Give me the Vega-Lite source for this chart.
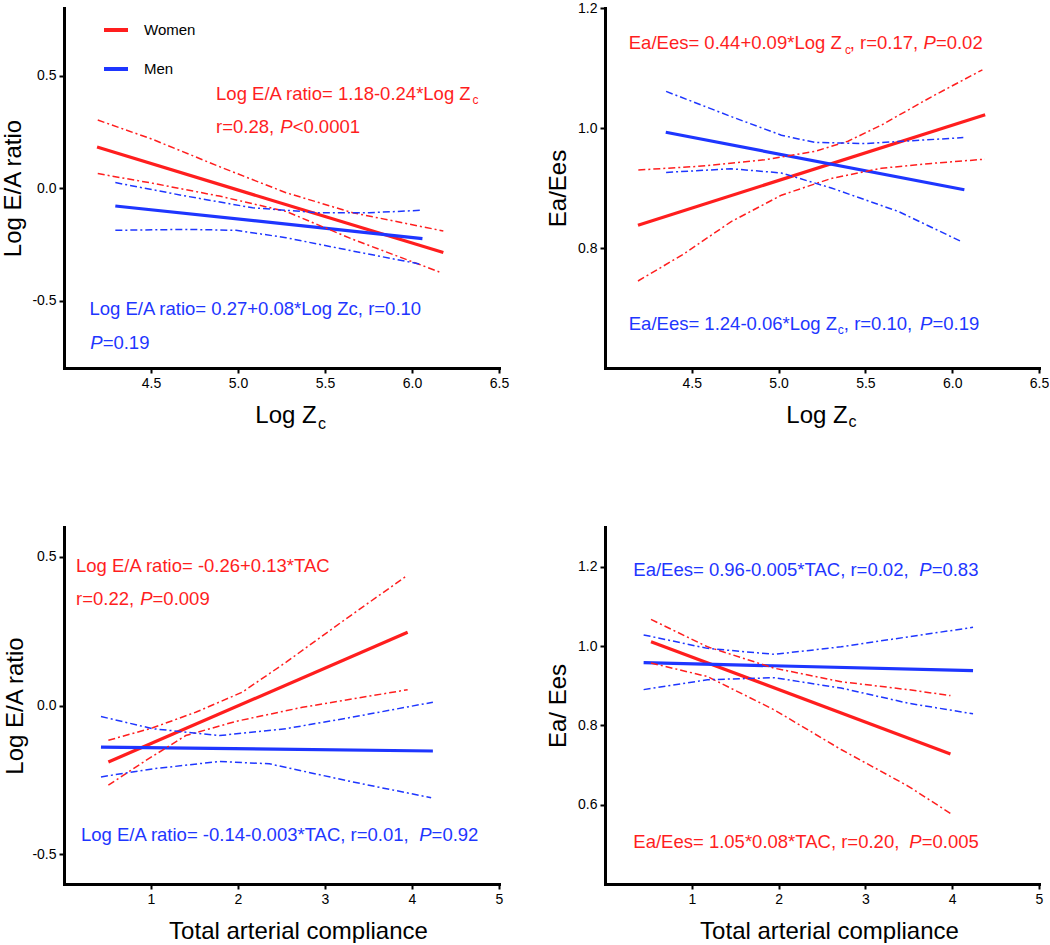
{
  "$schema": "https://vega.github.io/schema/vega-lite/v6.json",
  "padding": {"left": 1, "top": 1, "right": 0, "bottom": 0},
  "columns": 2,
  "spacing": {"row": 159, "column": 106},
  "bounds": "flush",
  "resolve": {"scale": {"color": "independent"}, "legend": {"color": "independent"}},
  "config": {
    "font": "Liberation Sans",
    "view": {"stroke": null},
    "axis": {"grid": false, "domainColor": "#000", "domainWidth": 3, "domainCap": "square", "tickColor": "#000", "tickWidth": 2, "tickSize": 5, "labelFont": "Liberation Sans", "labelFontSize": 14, "labelColor": "#000", "labelPadding": 3, "labelFlush": false, "labelOverlap": false, "labelExpr": "replace(datum.label, '\u2212', '-')", "titleFont": "Liberation Sans", "titleFontSize": 24, "titleFontWeight": "normal", "titleColor": "#000"},
    "axisX": {"titlePadding": 13},
    "axisY": {"titlePadding": 7}
  },
  "datasets": {
    "curves": [
      {"panel": "A", "sex": "Women", "curve": "fit", "x": 4.19, "y": 0.182},
      {"panel": "A", "sex": "Women", "curve": "fit", "x": 6.18, "y": -0.287},
      {"panel": "A", "sex": "Women", "curve": "upper", "x": 4.194, "y": 0.302},
      {"panel": "A", "sex": "Women", "curve": "upper", "x": 4.51, "y": 0.216},
      {"panel": "A", "sex": "Women", "curve": "upper", "x": 4.893, "y": 0.095},
      {"panel": "A", "sex": "Women", "curve": "upper", "x": 5.276, "y": -0.021},
      {"panel": "A", "sex": "Women", "curve": "upper", "x": 5.659, "y": -0.11},
      {"panel": "A", "sex": "Women", "curve": "upper", "x": 6.18, "y": -0.191},
      {"panel": "A", "sex": "Women", "curve": "lower", "x": 4.194, "y": 0.064},
      {"panel": "A", "sex": "Women", "curve": "lower", "x": 4.51, "y": 0.021},
      {"panel": "A", "sex": "Women", "curve": "lower", "x": 4.893, "y": -0.036},
      {"panel": "A", "sex": "Women", "curve": "lower", "x": 5.276, "y": -0.104},
      {"panel": "A", "sex": "Women", "curve": "lower", "x": 5.659, "y": -0.228},
      {"panel": "A", "sex": "Women", "curve": "lower", "x": 6.157, "y": -0.373},
      {"panel": "A", "sex": "Men", "curve": "fit", "x": 4.295, "y": -0.08},
      {"panel": "A", "sex": "Men", "curve": "fit", "x": 6.06, "y": -0.225},
      {"panel": "A", "sex": "Men", "curve": "upper", "x": 4.295, "y": 0.024},
      {"panel": "A", "sex": "Men", "curve": "upper", "x": 4.701, "y": -0.036},
      {"panel": "A", "sex": "Men", "curve": "upper", "x": 5.084, "y": -0.088},
      {"panel": "A", "sex": "Men", "curve": "upper", "x": 5.467, "y": -0.11},
      {"panel": "A", "sex": "Men", "curve": "upper", "x": 5.755, "y": -0.11},
      {"panel": "A", "sex": "Men", "curve": "upper", "x": 6.052, "y": -0.099},
      {"panel": "A", "sex": "Men", "curve": "lower", "x": 4.295, "y": -0.188},
      {"panel": "A", "sex": "Men", "curve": "lower", "x": 4.701, "y": -0.184},
      {"panel": "A", "sex": "Men", "curve": "lower", "x": 4.989, "y": -0.188},
      {"panel": "A", "sex": "Men", "curve": "lower", "x": 5.276, "y": -0.221},
      {"panel": "A", "sex": "Men", "curve": "lower", "x": 5.659, "y": -0.28},
      {"panel": "A", "sex": "Men", "curve": "lower", "x": 6.052, "y": -0.339},

      {"panel": "B", "sex": "Women", "curve": "fit", "x": 4.19, "y": 0.838},
      {"panel": "B", "sex": "Women", "curve": "fit", "x": 6.19, "y": 1.022},
      {"panel": "B", "sex": "Women", "curve": "upper", "x": 4.192, "y": 0.93},
      {"panel": "B", "sex": "Women", "curve": "upper", "x": 4.535, "y": 0.936},
      {"panel": "B", "sex": "Women", "curve": "upper", "x": 4.919, "y": 0.947},
      {"panel": "B", "sex": "Women", "curve": "upper", "x": 5.208, "y": 0.961},
      {"panel": "B", "sex": "Women", "curve": "upper", "x": 5.4, "y": 0.978},
      {"panel": "B", "sex": "Women", "curve": "upper", "x": 5.593, "y": 1.005},
      {"panel": "B", "sex": "Women", "curve": "upper", "x": 5.881, "y": 1.052},
      {"panel": "B", "sex": "Women", "curve": "upper", "x": 6.174, "y": 1.097},
      {"panel": "B", "sex": "Women", "curve": "lower", "x": 4.19, "y": 0.745},
      {"panel": "B", "sex": "Women", "curve": "lower", "x": 4.448, "y": 0.789},
      {"panel": "B", "sex": "Women", "curve": "lower", "x": 4.727, "y": 0.844},
      {"panel": "B", "sex": "Women", "curve": "lower", "x": 5.016, "y": 0.888},
      {"panel": "B", "sex": "Women", "curve": "lower", "x": 5.304, "y": 0.916},
      {"panel": "B", "sex": "Women", "curve": "lower", "x": 5.593, "y": 0.933},
      {"panel": "B", "sex": "Women", "curve": "lower", "x": 5.881, "y": 0.941},
      {"panel": "B", "sex": "Women", "curve": "lower", "x": 6.189, "y": 0.948},
      {"panel": "B", "sex": "Men", "curve": "fit", "x": 4.35, "y": 0.993},
      {"panel": "B", "sex": "Men", "curve": "fit", "x": 6.07, "y": 0.897},
      {"panel": "B", "sex": "Men", "curve": "upper", "x": 4.352, "y": 1.061},
      {"panel": "B", "sex": "Men", "curve": "upper", "x": 4.727, "y": 1.019},
      {"panel": "B", "sex": "Men", "curve": "upper", "x": 5.016, "y": 0.988},
      {"panel": "B", "sex": "Men", "curve": "upper", "x": 5.208, "y": 0.976},
      {"panel": "B", "sex": "Men", "curve": "upper", "x": 5.496, "y": 0.974},
      {"panel": "B", "sex": "Men", "curve": "upper", "x": 6.064, "y": 0.984},
      {"panel": "B", "sex": "Men", "curve": "lower", "x": 4.352, "y": 0.926},
      {"panel": "B", "sex": "Men", "curve": "lower", "x": 4.727, "y": 0.932},
      {"panel": "B", "sex": "Men", "curve": "lower", "x": 5.016, "y": 0.925},
      {"panel": "B", "sex": "Men", "curve": "lower", "x": 5.304, "y": 0.9},
      {"panel": "B", "sex": "Men", "curve": "lower", "x": 5.689, "y": 0.861},
      {"panel": "B", "sex": "Men", "curve": "lower", "x": 6.058, "y": 0.81},

      {"panel": "C", "sex": "Women", "curve": "fit", "x": 0.51, "y": -0.19},
      {"panel": "C", "sex": "Women", "curve": "fit", "x": 3.95, "y": 0.246},
      {"panel": "C", "sex": "Women", "curve": "upper", "x": 0.51, "y": -0.117},
      {"panel": "C", "sex": "Women", "curve": "upper", "x": 1.02, "y": -0.075},
      {"panel": "C", "sex": "Women", "curve": "upper", "x": 1.52, "y": -0.022},
      {"panel": "C", "sex": "Women", "curve": "upper", "x": 2.05, "y": 0.045},
      {"panel": "C", "sex": "Women", "curve": "upper", "x": 2.55, "y": 0.145},
      {"panel": "C", "sex": "Women", "curve": "upper", "x": 3.24, "y": 0.291},
      {"panel": "C", "sex": "Women", "curve": "upper", "x": 3.94, "y": 0.436},
      {"panel": "C", "sex": "Women", "curve": "lower", "x": 0.51, "y": -0.268},
      {"panel": "C", "sex": "Women", "curve": "lower", "x": 0.94, "y": -0.185},
      {"panel": "C", "sex": "Women", "curve": "lower", "x": 1.4, "y": -0.101},
      {"panel": "C", "sex": "Women", "curve": "lower", "x": 1.98, "y": -0.053},
      {"panel": "C", "sex": "Women", "curve": "lower", "x": 2.74, "y": -0.006},
      {"panel": "C", "sex": "Women", "curve": "lower", "x": 3.95, "y": 0.053},
      {"panel": "C", "sex": "Men", "curve": "fit", "x": 0.425, "y": -0.14},
      {"panel": "C", "sex": "Men", "curve": "fit", "x": 4.24, "y": -0.153},
      {"panel": "C", "sex": "Men", "curve": "upper", "x": 0.425, "y": -0.037},
      {"panel": "C", "sex": "Men", "curve": "upper", "x": 1.02, "y": -0.078},
      {"panel": "C", "sex": "Men", "curve": "upper", "x": 1.79, "y": -0.101},
      {"panel": "C", "sex": "Men", "curve": "upper", "x": 2.55, "y": -0.078},
      {"panel": "C", "sex": "Men", "curve": "upper", "x": 3.32, "y": -0.039},
      {"panel": "C", "sex": "Men", "curve": "upper", "x": 4.24, "y": 0.011},
      {"panel": "C", "sex": "Men", "curve": "lower", "x": 0.425, "y": -0.24},
      {"panel": "C", "sex": "Men", "curve": "lower", "x": 1.02, "y": -0.213},
      {"panel": "C", "sex": "Men", "curve": "lower", "x": 1.79, "y": -0.188},
      {"panel": "C", "sex": "Men", "curve": "lower", "x": 2.36, "y": -0.196},
      {"panel": "C", "sex": "Men", "curve": "lower", "x": 3.32, "y": -0.257},
      {"panel": "C", "sex": "Men", "curve": "lower", "x": 4.22, "y": -0.31},

      {"panel": "D", "sex": "Women", "curve": "fit", "x": 0.53, "y": 1.011},
      {"panel": "D", "sex": "Women", "curve": "fit", "x": 3.98, "y": 0.728},
      {"panel": "D", "sex": "Women", "curve": "upper", "x": 0.53, "y": 1.067},
      {"panel": "D", "sex": "Women", "curve": "upper", "x": 1.18, "y": 0.998},
      {"panel": "D", "sex": "Women", "curve": "upper", "x": 1.95, "y": 0.944},
      {"panel": "D", "sex": "Women", "curve": "upper", "x": 2.72, "y": 0.91},
      {"panel": "D", "sex": "Women", "curve": "upper", "x": 3.49, "y": 0.89},
      {"panel": "D", "sex": "Women", "curve": "upper", "x": 3.98, "y": 0.875},
      {"panel": "D", "sex": "Women", "curve": "lower", "x": 0.53, "y": 0.957},
      {"panel": "D", "sex": "Women", "curve": "lower", "x": 1.18, "y": 0.923},
      {"panel": "D", "sex": "Women", "curve": "lower", "x": 1.95, "y": 0.839},
      {"panel": "D", "sex": "Women", "curve": "lower", "x": 2.72, "y": 0.739},
      {"panel": "D", "sex": "Women", "curve": "lower", "x": 3.49, "y": 0.647},
      {"panel": "D", "sex": "Women", "curve": "lower", "x": 3.98, "y": 0.578},
      {"panel": "D", "sex": "Men", "curve": "fit", "x": 0.445, "y": 0.958},
      {"panel": "D", "sex": "Men", "curve": "fit", "x": 4.24, "y": 0.938},
      {"panel": "D", "sex": "Men", "curve": "upper", "x": 0.445, "y": 1.028},
      {"panel": "D", "sex": "Men", "curve": "upper", "x": 1.18, "y": 0.994},
      {"panel": "D", "sex": "Men", "curve": "upper", "x": 1.95, "y": 0.979},
      {"panel": "D", "sex": "Men", "curve": "upper", "x": 2.72, "y": 0.998},
      {"panel": "D", "sex": "Men", "curve": "upper", "x": 3.49, "y": 1.023},
      {"panel": "D", "sex": "Men", "curve": "upper", "x": 4.24, "y": 1.047},
      {"panel": "D", "sex": "Men", "curve": "lower", "x": 0.445, "y": 0.89},
      {"panel": "D", "sex": "Men", "curve": "lower", "x": 1.18, "y": 0.915},
      {"panel": "D", "sex": "Men", "curve": "lower", "x": 1.95, "y": 0.92},
      {"panel": "D", "sex": "Men", "curve": "lower", "x": 2.72, "y": 0.894},
      {"panel": "D", "sex": "Men", "curve": "lower", "x": 3.49, "y": 0.856},
      {"panel": "D", "sex": "Men", "curve": "lower", "x": 4.24, "y": 0.829}
    ],
    "notes": [
      {"panel": "A", "sex": "Women", "x": 4.874, "y": 0.391, "label": "Log E/A ratio= 1.18-0.24*Log Z"},
      {"panel": "A", "sex": "Women", "x": 4.874, "y": 0.246, "label": "r=0.28,"},
      {"panel": "A", "sex": "Women", "x": 5.314, "y": 0.246, "label": "<0.0001"},
      {"panel": "A", "sex": "Men", "x": 4.146, "y": -0.566, "label": "Log E/A ratio= 0.27+0.08*Log Zc, r=0.10"},
      {"panel": "A", "sex": "Men", "x": 4.222, "y": -0.714, "label": "=0.19"},
      {"panel": "B", "sex": "Women", "x": 4.137, "y": 1.132, "label": "Ea/Ees= 0.44+0.09*Log Z"},
      {"panel": "B", "sex": "Women", "x": 5.41, "y": 1.132, "label": ", r=0.17,"},
      {"panel": "B", "sex": "Women", "x": 5.906, "y": 1.132, "label": "=0.02"},
      {"panel": "B", "sex": "Men", "x": 4.137, "y": 0.663, "label": "Ea/Ees= 1.24-0.06*Log Z"},
      {"panel": "B", "sex": "Men", "x": 5.376, "y": 0.663, "label": ", r=0.10,"},
      {"panel": "B", "sex": "Men", "x": 5.886, "y": 0.663, "label": "=0.19"},
      {"panel": "C", "sex": "Women", "x": 0.138, "y": 0.45, "label": "Log E/A ratio= -0.26+0.13*TAC"},
      {"panel": "C", "sex": "Women", "x": 0.138, "y": 0.339, "label": "r=0.22,"},
      {"panel": "C", "sex": "Women", "x": 1.018, "y": 0.339, "label": "=0.009"},
      {"panel": "C", "sex": "Men", "x": 0.195, "y": -0.456, "label": "Log E/A ratio= -0.14-0.003*TAC, r=0.01,"},
      {"panel": "C", "sex": "Men", "x": 4.225, "y": -0.456, "label": "=0.92"},
      {"panel": "D", "sex": "Men", "x": 0.326, "y": 1.176, "label": "Ea/Ees= 0.96-0.005*TAC, r=0.02,"},
      {"panel": "D", "sex": "Men", "x": 3.763, "y": 1.176, "label": "=0.83"},
      {"panel": "D", "sex": "Women", "x": 0.326, "y": 0.492, "label": "Ea/Ees= 1.05*0.08*TAC, r=0.20,"},
      {"panel": "D", "sex": "Women", "x": 3.648, "y": 0.492, "label": "=0.005"}
    ],
    "notesItalic": [
      {"panel": "A", "sex": "Women", "x": 5.243, "y": 0.246, "label": "P"},
      {"panel": "A", "sex": "Men", "x": 4.151, "y": -0.714, "label": "P"},
      {"panel": "B", "sex": "Women", "x": 5.835, "y": 1.132, "label": "P"},
      {"panel": "B", "sex": "Men", "x": 5.815, "y": 0.663, "label": "P"},
      {"panel": "C", "sex": "Women", "x": 0.877, "y": 0.339, "label": "P"},
      {"panel": "C", "sex": "Men", "x": 4.084, "y": -0.456, "label": "P"},
      {"panel": "D", "sex": "Men", "x": 3.621, "y": 1.176, "label": "P"},
      {"panel": "D", "sex": "Women", "x": 3.506, "y": 0.492, "label": "P"}
    ],
    "notesSub": [
      {"panel": "A", "sex": "Women", "x": 6.348, "y": 0.372, "label": "c"},
      {"panel": "B", "sex": "Women", "x": 5.382, "y": 1.124, "label": "c"},
      {"panel": "B", "sex": "Men", "x": 5.341, "y": 0.657, "label": "c"}
    ],
    "axisSub": [
      {"panel": "A", "x": 5.46, "y": -1.072, "label": "c"},
      {"panel": "B", "x": 5.402, "y": 0.501, "label": "c"}
    ]
  },
  "concat": [
    {
      "width": 435, "height": 360,
      "encoding": {
        "x": {"field": "x", "type": "quantitative", "scale": {"domain": [4, 6.5], "nice": false, "zero": false}, "axis": {"title": "Log Z", "titleX": 221.5, "values": [4.5, 5, 5.5, 6, 6.5], "format": ".1f"}},
        "y": {"field": "y", "type": "quantitative", "scale": {"domain": [-0.8, 0.8], "nice": false, "zero": false}, "axis": {"title": "Log E/A ratio", "values": [-0.5, 0, 0.5], "format": ".1f", "titlePadding": 6}},
        "color": {"field": "sex", "type": "nominal", "scale": {"domain": ["Women", "Men"], "range": ["#ff1e1e", "#1e36ff"]}, "legend": {"orient": "none", "legendX": 38, "legendY": 8, "title": null, "symbolType": "stroke", "symbolStrokeWidth": 4, "symbolSize": 576, "labelFontSize": 15, "labelColor": "#000", "labelOffset": 14, "rowPadding": 17, "padding": 0}}
      },
      "layer": [
        {"data": {"name": "curves"}, "transform": [{"filter": "datum.panel === 'A' && datum.curve === 'fit'"}], "mark": {"type": "line", "strokeWidth": 3.2}},
        {"data": {"name": "curves"}, "transform": [{"filter": "datum.panel === 'A' && datum.curve !== 'fit'"}], "mark": {"type": "line", "strokeWidth": 1.5, "strokeDash": [7, 3, 2, 3]}, "encoding": {"detail": {"field": "curve"}}},
        {"data": {"name": "notes"}, "transform": [{"filter": "datum.panel === 'A'"}], "mark": {"type": "text", "align": "left", "baseline": "alphabetic", "fontSize": 18.5}, "encoding": {"text": {"field": "label"}}},
        {"data": {"name": "notesItalic"}, "transform": [{"filter": "datum.panel === 'A'"}], "mark": {"type": "text", "align": "left", "baseline": "alphabetic", "fontSize": 18.5, "fontStyle": "italic"}, "encoding": {"text": {"field": "label"}}},
        {"data": {"name": "notesSub"}, "transform": [{"filter": "datum.panel === 'A'"}], "mark": {"type": "text", "align": "left", "baseline": "alphabetic", "fontSize": 12}, "encoding": {"text": {"field": "label"}}},
        {"data": {"name": "axisSub"}, "transform": [{"filter": "datum.panel === 'A'"}], "mark": {"type": "text", "align": "left", "baseline": "alphabetic", "fontSize": 16}, "encoding": {"text": {"field": "label"}, "color": {"value": "#000"}}}
      ]
    },
    {
      "width": 434, "height": 360,
      "encoding": {
        "x": {"field": "x", "type": "quantitative", "scale": {"domain": [4, 6.5], "nice": false, "zero": false}, "axis": {"title": "Log Z", "titleX": 211.5, "values": [4.5, 5, 5.5, 6, 6.5], "format": ".1f"}},
        "y": {"field": "y", "type": "quantitative", "scale": {"domain": [0.6, 1.2], "nice": false, "zero": false}, "axis": {"title": "Ea/Ees", "values": [0.8, 1.0, 1.2], "format": ".1f"}},
        "color": {"field": "sex", "type": "nominal", "scale": {"domain": ["Women", "Men"], "range": ["#ff1e1e", "#1e36ff"]}, "legend": null}
      },
      "layer": [
        {"data": {"name": "curves"}, "transform": [{"filter": "datum.panel === 'B' && datum.curve === 'fit'"}], "mark": {"type": "line", "strokeWidth": 3.2}},
        {"data": {"name": "curves"}, "transform": [{"filter": "datum.panel === 'B' && datum.curve !== 'fit'"}], "mark": {"type": "line", "strokeWidth": 1.5, "strokeDash": [7, 3, 2, 3]}, "encoding": {"detail": {"field": "curve"}}},
        {"data": {"name": "notes"}, "transform": [{"filter": "datum.panel === 'B'"}], "mark": {"type": "text", "align": "left", "baseline": "alphabetic", "fontSize": 18.5}, "encoding": {"text": {"field": "label"}}},
        {"data": {"name": "notesItalic"}, "transform": [{"filter": "datum.panel === 'B'"}], "mark": {"type": "text", "align": "left", "baseline": "alphabetic", "fontSize": 18.5, "fontStyle": "italic"}, "encoding": {"text": {"field": "label"}}},
        {"data": {"name": "notesSub"}, "transform": [{"filter": "datum.panel === 'B'"}], "mark": {"type": "text", "align": "left", "baseline": "alphabetic", "fontSize": 12}, "encoding": {"text": {"field": "label"}}},
        {"data": {"name": "axisSub"}, "transform": [{"filter": "datum.panel === 'B'"}], "mark": {"type": "text", "align": "left", "baseline": "alphabetic", "fontSize": 16}, "encoding": {"text": {"field": "label"}, "color": {"value": "#000"}}}
      ]
    },
    {
      "width": 435, "height": 357,
      "encoding": {
        "x": {"field": "x", "type": "quantitative", "scale": {"domain": [0, 5], "nice": false, "zero": false}, "axis": {"title": "Total arterial compliance", "titleX": 234, "values": [1, 2, 3, 4, 5], "format": "d"}},
        "y": {"field": "y", "type": "quantitative", "scale": {"domain": [-0.6, 0.6], "nice": false, "zero": false}, "axis": {"title": "Log E/A ratio", "values": [-0.5, 0, 0.5], "format": ".1f", "titlePadding": 4}},
        "color": {"field": "sex", "type": "nominal", "scale": {"domain": ["Women", "Men"], "range": ["#ff1e1e", "#1e36ff"]}, "legend": null}
      },
      "layer": [
        {"data": {"name": "curves"}, "transform": [{"filter": "datum.panel === 'C' && datum.curve === 'fit'"}], "mark": {"type": "line", "strokeWidth": 3.2}},
        {"data": {"name": "curves"}, "transform": [{"filter": "datum.panel === 'C' && datum.curve !== 'fit'"}], "mark": {"type": "line", "strokeWidth": 1.5, "strokeDash": [7, 3, 2, 3]}, "encoding": {"detail": {"field": "curve"}}},
        {"data": {"name": "notes"}, "transform": [{"filter": "datum.panel === 'C'"}], "mark": {"type": "text", "align": "left", "baseline": "alphabetic", "fontSize": 18.5}, "encoding": {"text": {"field": "label"}}},
        {"data": {"name": "notesItalic"}, "transform": [{"filter": "datum.panel === 'C'"}], "mark": {"type": "text", "align": "left", "baseline": "alphabetic", "fontSize": 18.5, "fontStyle": "italic"}, "encoding": {"text": {"field": "label"}}}
      ]
    },
    {
      "width": 434, "height": 357,
      "encoding": {
        "x": {"field": "x", "type": "quantitative", "scale": {"domain": [0, 5], "nice": false, "zero": false}, "axis": {"title": "Total arterial compliance", "titleX": 224, "values": [1, 2, 3, 4, 5], "format": "d"}},
        "y": {"field": "y", "type": "quantitative", "scale": {"domain": [0.4, 1.3], "nice": false, "zero": false}, "axis": {"title": "Ea/ Ees", "values": [0.6, 0.8, 1.0, 1.2], "format": ".1f"}},
        "color": {"field": "sex", "type": "nominal", "scale": {"domain": ["Women", "Men"], "range": ["#ff1e1e", "#1e36ff"]}, "legend": null}
      },
      "layer": [
        {"data": {"name": "curves"}, "transform": [{"filter": "datum.panel === 'D' && datum.curve === 'fit'"}], "mark": {"type": "line", "strokeWidth": 3.2}},
        {"data": {"name": "curves"}, "transform": [{"filter": "datum.panel === 'D' && datum.curve !== 'fit'"}], "mark": {"type": "line", "strokeWidth": 1.5, "strokeDash": [7, 3, 2, 3]}, "encoding": {"detail": {"field": "curve"}}},
        {"data": {"name": "notes"}, "transform": [{"filter": "datum.panel === 'D'"}], "mark": {"type": "text", "align": "left", "baseline": "alphabetic", "fontSize": 18.5}, "encoding": {"text": {"field": "label"}}},
        {"data": {"name": "notesItalic"}, "transform": [{"filter": "datum.panel === 'D'"}], "mark": {"type": "text", "align": "left", "baseline": "alphabetic", "fontSize": 18.5, "fontStyle": "italic"}, "encoding": {"text": {"field": "label"}}}
      ]
    }
  ]
}
